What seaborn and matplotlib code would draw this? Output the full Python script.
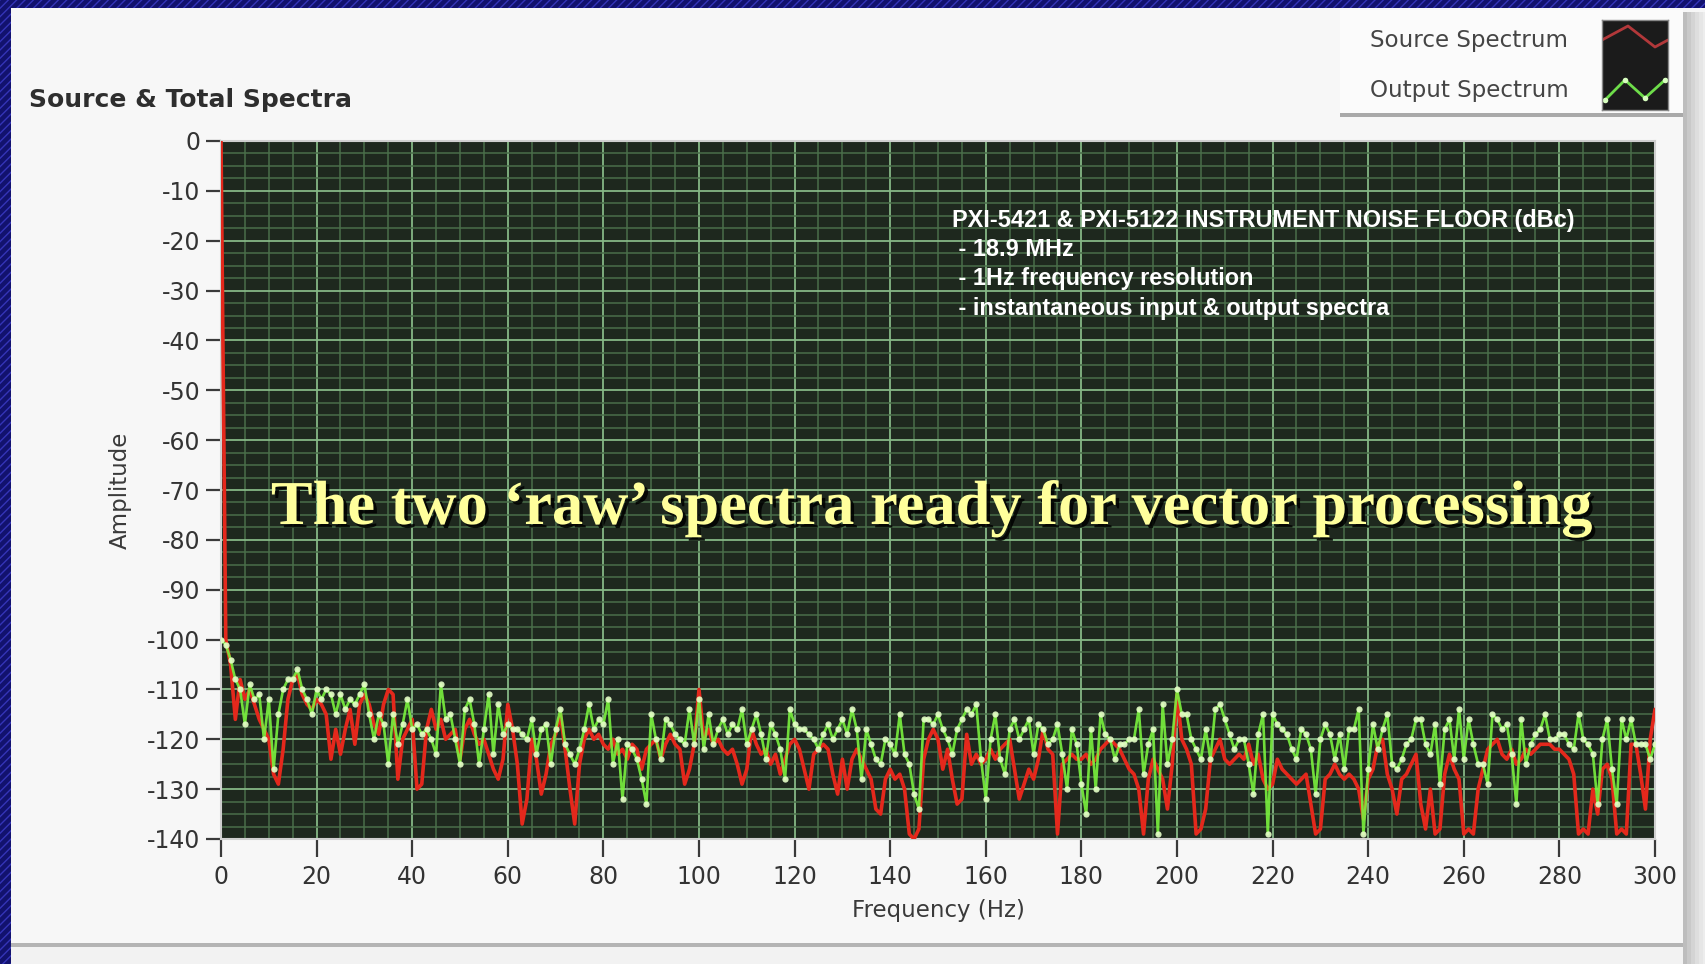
import numpy as np
import pandas as pd
import matplotlib
matplotlib.use("Agg")
import matplotlib.pyplot as plt
import seaborn as sns
from matplotlib.patches import Rectangle
from matplotlib import font_manager as fm
import matplotlib.patheffects as pe

# ---------------- data (1 Hz bins) ----------------
source_db = [
    0, -100, -105, -116, -108, -112, -110, -113, -116, -118,
    -120, -127, -129, -122, -112, -108, -107, -111, -113, -114,
    -112, -113, -115, -124, -118, -123, -118, -114, -121, -113,
    -111, -113, -117, -119, -113, -110, -111, -128, -120, -118,
    -116, -130, -129, -118, -114, -118, -116, -120, -119, -118,
    -124, -118, -116, -119, -121, -120, -123, -126, -128, -124,
    -113, -118, -125, -137, -132, -120, -124, -131, -127, -121,
    -119, -115, -122, -130, -137, -125, -120, -118, -120, -119,
    -121, -122, -120, -123, -122, -124, -121, -122, -126, -122,
    -121, -120, -124, -121, -119, -121, -122, -129, -126, -121,
    -110, -120, -118, -121, -120, -122, -123, -122, -125, -129,
    -126, -118, -121, -123, -122, -125, -123, -127, -124, -121,
    -120, -122, -126, -130, -123, -122, -121, -122, -127, -131,
    -124, -130, -124, -122, -124, -126, -128, -134, -135, -128,
    -126, -128, -127, -130, -139, -140, -138, -124, -120, -118,
    -120, -126, -122, -128, -133, -132, -119, -125, -123, -125,
    -124, -122, -124, -122, -121, -120, -126, -132, -129, -126,
    -128, -124, -118, -122, -123, -139, -125, -124, -123, -124,
    -124, -123, -125, -124, -122, -121, -120, -121, -122, -124,
    -126, -127, -130, -139, -128, -124, -126, -128, -134, -125,
    -111, -120, -122, -125, -139, -138, -134, -124, -122, -120,
    -124, -125, -124, -123, -124, -121, -125, -123, -128, -130,
    -129, -124, -126, -127, -128, -129, -128, -127, -133, -139,
    -138, -128, -127, -125, -127, -128, -127, -128, -130, -136,
    -128, -126, -121, -120, -127, -130, -135, -128, -127, -125,
    -123, -133, -138, -130, -139, -138, -127, -123, -126, -128,
    -139, -138, -139, -130, -126, -122, -121, -120, -123, -124,
    -122, -125, -124, -122, -123, -122, -121, -121, -121, -122,
    -122, -123, -124, -127, -139, -138, -139, -130, -135, -126,
    -125, -128, -139, -138, -139, -121, -121, -127, -134, -120,
    -114,
]

output_db = [
    -100, -101, -104, -108, -110, -117, -109, -112, -111, -120,
    -112, -126, -115, -110, -108, -108, -106, -110, -112, -115,
    -110, -112, -110, -111, -115, -111, -114, -112, -113, -111,
    -109, -115, -120, -115, -117, -125, -115, -121, -117, -112,
    -118, -117, -119, -118, -120, -123, -109, -116, -115, -120,
    -125, -114, -112, -117, -125, -118, -111, -123, -113, -119,
    -117, -118, -118, -119, -120, -116, -123, -118, -117, -125,
    -118, -114, -121, -123, -125, -122, -118, -113, -118, -116,
    -117, -112, -125, -120, -132, -121, -122, -124, -128, -133,
    -115, -120, -124, -116, -117, -119, -120, -121, -114, -121,
    -112, -122, -115, -121, -118, -116, -119, -117, -118, -114,
    -121, -118, -115, -119, -124, -117, -119, -122, -128, -114,
    -117, -118, -118, -119, -120, -122, -119, -117, -120, -118,
    -116, -119, -114, -118, -128, -118, -121, -124, -125, -120,
    -121, -123, -115, -123, -125, -131, -134, -116, -116, -117,
    -115, -118, -120, -123, -118, -116, -114, -115, -113, -124,
    -132, -120, -115, -124, -127, -118, -116, -120, -118, -116,
    -123, -117, -118, -121, -120, -117, -123, -130, -118, -121,
    -129, -135, -118, -130, -115, -119, -120, -124, -121, -121,
    -120, -120, -114, -127, -121, -118, -139, -113, -125, -120,
    -110, -115, -115, -120, -122, -124, -118, -124, -114, -113,
    -116, -119, -122, -120, -120, -125, -131, -119, -115, -139,
    -115, -117, -118, -119, -122, -124, -118, -119, -122, -131,
    -120, -117, -119, -124, -119, -126, -118, -118, -114, -139,
    -126, -117, -122, -118, -115, -125, -126, -124, -121, -120,
    -116, -116, -121, -123, -117, -129, -118, -116, -124, -114,
    -124, -116, -121, -125, -125, -129, -115, -116, -118, -117,
    -123, -133, -116, -125, -121, -119, -118, -115, -120, -120,
    -119, -119, -121, -122, -115, -120, -121, -123, -133, -120,
    -116, -126, -133, -116, -120, -116, -121, -121, -121, -124,
    -121,
]

freq_hz = list(range(len(source_db)))
x_ticks = list(range(0, 301, 20))
y_ticks = list(range(0, -141, -10))
series_names = ["Source Spectrum", "Output Spectrum"]
title_text = "Source & Total Spectra"
note_lines = ["PXI-5421 & PXI-5122 INSTRUMENT NOISE FLOOR (dBc)",
              " - 18.9 MHz",
              " - 1Hz frequency resolution",
              " - instantaneous input & output spectra"]
banner_text = "The two \u2018raw\u2019 spectra ready for vector processing"

df = pd.DataFrame({"Frequency (Hz)": freq_hz,
                   "Source": source_db,
                   "Output": output_db[:len(freq_hz)]})

# ---------------- figure ----------------
W, H = 1706, 964
sns.set_style("white")
plt.rcParams["font.family"] = ["DejaVu Sans"]
plt.rcParams["hatch.linewidth"] = 1.0
plt.rcParams["axes.unicode_minus"] = False

names = {f.name for f in fm.fontManager.ttflist}
narrow = "Liberation Sans Narrow" if "Liberation Sans Narrow" in names else "Liberation Sans"

fig = plt.figure(figsize=(W / 100, H / 100), dpi=100)
fig.patch.set_facecolor("#14147e")


def frect(x0, y0, x1, y1):
    return (x0 / W, 1 - y1 / H), (x1 - x0) / W, (y1 - y0) / H


def add_rect(x0, y0, x1, y1, z, **kw):
    xy, w, h = frect(x0, y0, x1, y1)
    r = Rectangle(xy, w, h, transform=fig.transFigure, zorder=z, **kw)
    fig.add_artist(r)
    return r


# blue hatched slide background
add_rect(0, 0, W, H, -20, facecolor="#12126e", edgecolor="#3434b8", hatch="////", lw=0)
# white panel
add_rect(11, 8, W, H, -19, facecolor="#f7f7f7", edgecolor="none")
# right shadow gradient
shades = ["#bdbdbd", "#c9c9c9", "#d4d4d4", "#dedede", "#e6e6e6", "#ededed"]
for i, c in enumerate(shades):
    add_rect(1683 + i * 4, 12, 1687 + i * 4, H, -18, facecolor=c, edgecolor="none")
# bottom line of panel
add_rect(11, 943, 1683, 947, -18, facecolor="#b4b4b4", edgecolor="none")
add_rect(11, 947, 1683, H, -18, facecolor="#f2f2f2", edgecolor="none")
# legend box
add_rect(1340, 10, 1683, 113, -17, facecolor="#fbfbfb", edgecolor="none")
add_rect(1340, 113, 1683, 117, -17, facecolor="#a9a9a9", edgecolor="none")

# ---------------- main plot ----------------
L, R, T, B = 221, 1655, 141, 839
ax = fig.add_axes([L / W, 1 - B / H, (R - L) / W, (B - T) / H])
ax.set_facecolor("#1e281e")

sns.lineplot(data=df, x="Frequency (Hz)", y="Source", ax=ax, color="#e4281c",
             lw=2.6, sort=False, zorder=3)
sns.lineplot(data=df, x="Frequency (Hz)", y="Output", ax=ax, color="#7af23e",
             lw=1.9, sort=False, zorder=4, alpha=0.9, marker="o", markersize=4.5,
             markerfacecolor="#e6ffc8", markeredgewidth=0)

ax.set_xlim(0, 300)
ax.set_ylim(-140, 0)
ax.set_xticks(x_ticks)
ax.set_yticks(y_ticks)
ax.set_xticks(np.arange(0, 301, 5), minor=True)
ax.set_yticks(np.arange(-140, 0.1, 2.5), minor=True)
ax.grid(which="minor", color="#4a6e4a", lw=1.1, zorder=0)
ax.grid(which="major", color="#86b886", lw=1.3, zorder=0)
ax.set_axisbelow(True)

for s in ax.spines.values():
    s.set_color("#cfcfcf")
    s.set_linewidth(1.5)

ax.tick_params(which="major", direction="out", length=9, width=1.6, color="#3a3a3a",
               labelsize=17, labelcolor="#333333", bottom=True, left=True)
ax.tick_params(axis="x", which="major", length=13, pad=6)
ax.tick_params(axis="y", which="major", length=11, pad=4)
ax.tick_params(which="minor", length=0)

ax.set_xlabel("Frequency (Hz)", fontsize=16.5, color="#3a3a3a")
ax.set_ylabel("Amplitude", fontsize=16.5, color="#3a3a3a")
ax.xaxis.set_label_coords(0.5, (B - 911) / (B - T))
ax.xaxis.label.set_va("center")
ax.yaxis.set_label_coords((120 - L) / (R - L), 0.5)
ax.yaxis.label.set_va("center")

# white note lines
note_y_px = [220, 249, 279, 308]
note_texts = []
for ln, ypx in zip(note_lines, note_y_px):
    t = ax.text((952 - L) / (R - L), (B - ypx) / (B - T), ln, transform=ax.transAxes,
                ha="left", va="center", color="white", fontsize=15,
                fontfamily=narrow, fontweight="bold", zorder=6)
    note_texts.append(t)

# banner text
banner = ax.text(((270 + 1594) / 2 - L) / (R - L), (B - 524) / (B - T), banner_text,
                 transform=ax.transAxes, ha="center", va="baseline", color="#ffff9c",
                 fontsize=42, fontfamily="Liberation Serif", fontweight="bold", zorder=7,
                 path_effects=[pe.withSimplePatchShadow(offset=(2.5, -2.5),
                                                        shadow_rgbFace="#000000", alpha=0.85)])

# title
title = fig.text(29 / W, 1 - 100 / H, title_text, ha="left", va="center",
                 fontsize=16.5, fontweight="bold", color="#2e2e2e")

# legend labels
leg1 = fig.text(1370 / W, 1 - 40 / H, series_names[0], ha="left", va="center",
                fontsize=16.5, color="#454545")
leg2 = fig.text(1370 / W, 1 - 90 / H, series_names[1], ha="left", va="center",
                fontsize=16.5, color="#454545")

# legend swatch
sw = fig.add_axes([1602 / W, 1 - 110 / H, 66 / W, 90 / H])
sw.set_facecolor("#1b1b1b")
sw.set_xlim(0, 66)
sw.set_ylim(90, 0)
sw.set_xticks([])
sw.set_yticks([])
for s in sw.spines.values():
    s.set_color("#888888")
    s.set_linewidth(1)
sw.plot([0, 26, 53, 66], [20, 6, 27, 20], color="#b2383a", lw=2)
sw.plot([3, 23, 43, 63], [80, 60, 78, 60], color="#6edd4a", lw=2,
        marker="o", markersize=4, markerfacecolor="#d8ffc0", markeredgewidth=0)

# fit text widths to the reference
fig.canvas.draw()
rend = fig.canvas.get_renderer()


def fit(t, target_w):
    bb = t.get_window_extent(rend)
    t.set_fontsize(t.get_fontsize() * target_w / bb.width)


fit(banner, 1324)
fit(note_texts[0], 623)
s = note_texts[0].get_fontsize()
for t in note_texts[1:]:
    t.set_fontsize(s)
fit(title, 321)
fit(leg1, 198)
leg2.set_fontsize(leg1.get_fontsize())

fig.savefig("out.png", dpi=100, facecolor=fig.get_facecolor())
